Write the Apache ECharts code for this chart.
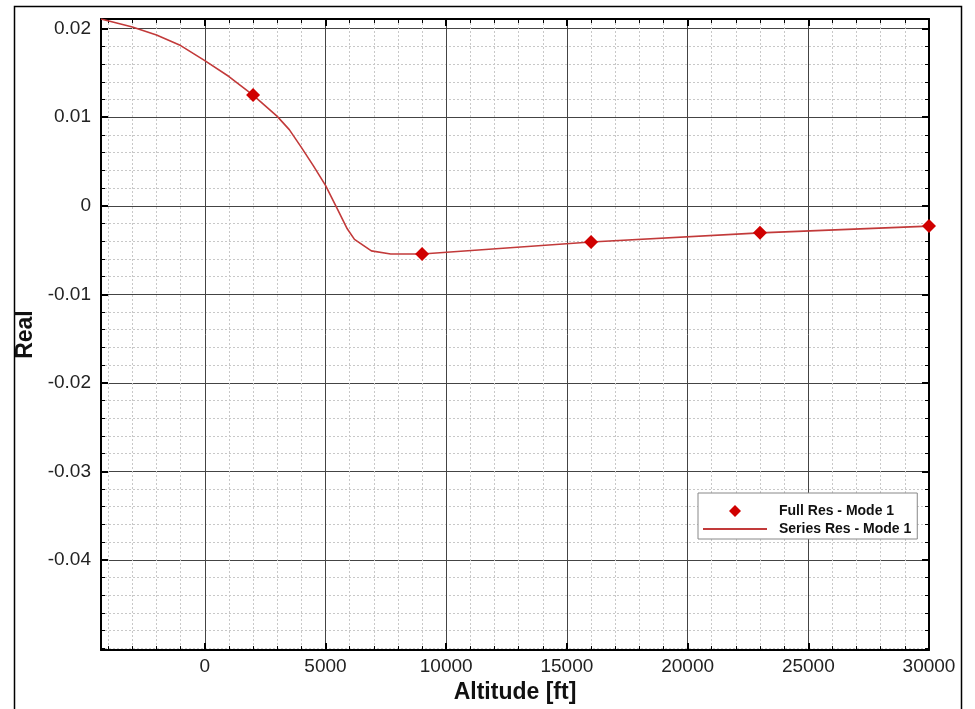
<!DOCTYPE html>
<html>
<head>
<meta charset="utf-8">
<script src="https://cdn.jsdelivr.net/npm/echarts@6/dist/echarts.min.js"></script>
<style>
  html, body { margin: 0; padding: 0; background: #fff; }
  #chart { width: 975px; height: 709px; }
</style>
</head>
<body>
<div id="chart"></div>
<script>
// full resolution points (diamonds)
const fullAlt = [2000, 9000, 16000, 23000, 30000]
const fullReal = [0.0125, -0.00545, -0.0041, -0.00306, -0.0023]

// series resolution curve
const seriesAlt = [-4300, -3000, -2000, -1000, 0, 1000, 2000, 3000, 3500, 4000, 4500, 5000, 5500, 5900, 6200, 6900, 7700, 8500, 9000, 16000, 23000, 30000]
const seriesReal = [0.0211, 0.0202, 0.0193, 0.0181, 0.0164, 0.0146, 0.0125, 0.0101, 0.0086, 0.0066, 0.0045, 0.0023, -0.0004, -0.0026, -0.0038, -0.0051, -0.00545, -0.00545, -0.00545, -0.0041, -0.00306, -0.0023]

// tick values
const xMajor = [0, 5000, 10000, 15000, 20000, 25000, 30000]
const xMinor = [-4000, -3000, -2000, -1000, 0, 1000, 2000, 3000, 4000, 5000, 6000, 7000, 8000, 9000, 10000,
  11000, 12000, 13000, 14000, 15000, 16000, 17000, 18000, 19000, 20000, 21000, 22000, 23000, 24000, 25000,
  26000, 27000, 28000, 29000, 30000]
const yMajor = [-0.04, -0.03, -0.02, -0.01, 0, 0.01, 0.02]
const yMinor = [-0.05, -0.048, -0.046, -0.044, -0.042, -0.04, -0.038, -0.036, -0.034, -0.032, -0.03,
  -0.028, -0.026, -0.024, -0.022, -0.02, -0.018, -0.016, -0.014, -0.012, -0.01, -0.008, -0.006, -0.004,
  -0.002, 0, 0.002, 0.004, 0.006, 0.008, 0.01, 0.012, 0.014, 0.016, 0.018, 0.02]

const X_MIN = -4300, X_MAX = 30000
const Y_MIN = -0.0502, Y_MAX = 0.0211

const font = 'Liberation Sans, Arial, sans-serif'

// builds one axis; minor axes only draw dotted grid + short ticks
function xAxisOf (pos, major, withLabels) {
  return {
    type: 'value', position: pos, min: X_MIN, max: X_MAX,
    axisLine: { show: major, onZero: false, lineStyle: { color: '#000', width: 2 } },
    axisTick: { show: true, inside: true, length: major ? 7 : 4, customValues: major ? xMajor : xMinor,
      lineStyle: { color: '#000', width: major ? 2 : 1 } },
    axisLabel: { show: withLabels, customValues: xMajor, margin: 7, fontSize: 19, color: '#222', fontFamily: font,
      formatter: v => String(v) },
    splitLine: { show: pos === 'bottom', lineStyle: major ? { color: '#444', width: 1 } : { color: '#c8c8c8', width: 1, type: [2, 2] } },
    name: withLabels ? 'Altitude [ft]' : '',
    nameLocation: 'middle', nameGap: 24,
    nameTextStyle: { fontSize: 23, fontWeight: 'bold', color: '#111', fontFamily: font }
  }
}

function yAxisOf (pos, major, withLabels) {
  return {
    type: 'value', position: pos, min: Y_MIN, max: Y_MAX,
    axisLine: { show: major, onZero: false, lineStyle: { color: '#000', width: 2 } },
    axisTick: { show: true, inside: true, length: major ? 7 : 4, customValues: major ? yMajor : yMinor,
      lineStyle: { color: '#000', width: major ? 2 : 1 } },
    axisLabel: { show: withLabels, customValues: yMajor, margin: 10, fontSize: 19, color: '#222', fontFamily: font,
      formatter: v => String(Math.round(v * 1000) / 1000) },
    splitLine: { show: pos === 'left', lineStyle: major ? { color: '#444', width: 1 } : { color: '#c8c8c8', width: 1, type: [2, 2] } },
    name: withLabels ? 'Real' : '',
    nameLocation: 'middle', nameGap: 63,
    nameTextStyle: { fontSize: 23, fontWeight: 'bold', color: '#111', fontFamily: font }
  }
}

const chart = echarts.init(document.getElementById('chart'))
chart.setOption({
  backgroundColor: '#fff',
  animation: false,
  grid: { left: 101, top: 19, right: 46, bottom: 54 },
  graphic: [{
    type: 'rect', silent: true, z: -10,
    shape: { x: 14.5, y: 6.5, width: 947, height: 720 },
    style: { fill: 'none', stroke: '#000', lineWidth: 1.5 }
  }],
  xAxis: [
    xAxisOf('bottom', false, false),
    xAxisOf('top', false, false),
    xAxisOf('bottom', true, true),
    xAxisOf('top', true, false)
  ],
  yAxis: [
    yAxisOf('left', false, false),
    yAxisOf('right', false, false),
    yAxisOf('left', true, true),
    yAxisOf('right', true, false)
  ],
  legend: {
    orient: 'vertical', left: 698, top: 493,
    padding: [11, 6, 3, 5], itemGap: 4,
    itemWidth: 64, itemHeight: 12, symbolKeepAspect: true,
    backgroundColor: '#fff', borderColor: '#888', borderWidth: 1,
    textStyle: { fontSize: 14, fontWeight: 'bold', color: '#111', fontFamily: font, padding: [0, 0, 0, 7] },
    data: [
      { name: 'Full Res - Mode 1', icon: 'path://M0,6L6,0L12,6L6,12Z' },
      { name: 'Series Res - Mode 1', icon: 'path://M0,0L64,0L64,2L0,2Z' }
    ]
  },
  series: [
    {
      name: 'Series Res - Mode 1', type: 'line', xAxisIndex: 2, yAxisIndex: 2,
      showSymbol: false, symbol: 'none', z: 3,
      lineStyle: { color: '#c23a3a', width: 1.6 }, itemStyle: { color: '#c23a3a' },
      data: seriesAlt.map((a, i) => [a, seriesReal[i]])
    },
    {
      name: 'Full Res - Mode 1', type: 'scatter', xAxisIndex: 2, yAxisIndex: 2,
      symbol: 'diamond', symbolSize: 14, z: 4,
      itemStyle: { color: '#d00000', opacity: 1 },
      data: fullAlt.map((a, i) => [a, fullReal[i]])
    }
  ]
})
</script>
</body>
</html>
